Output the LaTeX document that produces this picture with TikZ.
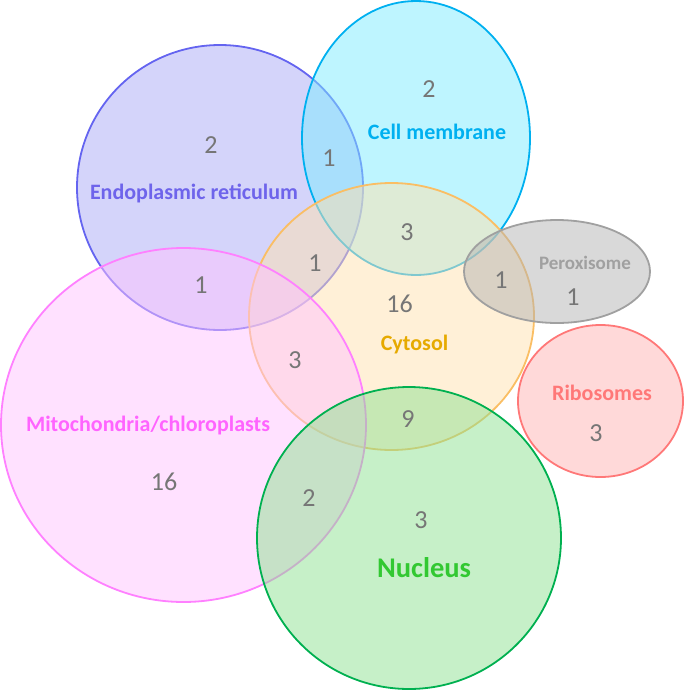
\documentclass[tikz,border=0pt]{standalone}
\usepackage{fontspec}
\setmainfont{Carlito}
\definecolor{erline}{RGB}{100,100,240}
\definecolor{erfill}{RGB}{169,169,245}
\definecolor{ertext}{RGB}{110,100,235}
\definecolor{cmline}{RGB}{0,176,240}
\definecolor{cmfill}{RGB}{125,235,255}
\definecolor{cytline}{RGB}{250,190,100}
\definecolor{cytfill}{RGB}{255,225,175}
\definecolor{cyttext}{RGB}{230,170,0}
\definecolor{perline}{RGB}{160,160,160}
\definecolor{perfill}{RGB}{179,179,179}
\definecolor{ribline}{RGB}{255,120,120}
\definecolor{ribfill}{RGB}{255,179,179}
\definecolor{mitline}{RGB}{255,128,255}
\definecolor{mitfill}{RGB}{255,195,255}
\definecolor{mittext}{RGB}{255,100,255}
\definecolor{nucline}{RGB}{0,176,80}
\definecolor{nucfill}{RGB}{141,225,145}
\definecolor{nuctext}{RGB}{50,200,50}
\definecolor{numgray}{RGB}{118,118,118}

\begin{document}
\begin{tikzpicture}[
    x=1pt, y=-1pt,
    compartment/.style 2 args={draw=#1, line width=1.8pt, fill=#2, fill opacity=0.5},
    lbl/.style={font=\fontsize{22}{22}\selectfont\bfseries, text=#1, inner sep=0pt},
    num/.style={font=\fontsize{26}{26}\selectfont, text=numgray, inner sep=0pt}
]
\useasboundingbox (0,0) rectangle (685,691);

% compartments
\draw[compartment={erline}{erfill}] (220,187.5) ellipse [x radius=143, y radius=142.5];
\draw[compartment={cmline}{cmfill}] (416,138) ellipse [x radius=114, y radius=137];
\draw[compartment={cytline}{cytfill}] (391.5,316.5) ellipse [x radius=142.5, y radius=133.5];
\draw[compartment={perline}{perfill}] (557,271.5) ellipse [x radius=93, y radius=51.5];
\draw[compartment={ribline}{ribfill}] (600.5,401) ellipse [x radius=82.5, y radius=76];
\draw[compartment={mitline}{mitfill}] (183.5,425) ellipse [x radius=182.5, y radius=177];
\draw[compartment={nucline}{nucfill}] (409,538) ellipse [x radius=152, y radius=151];

% names
\node[lbl=ertext] (erName) at (194,193) {Endoplasmic reticulum};
\node[lbl=cmline] (cmName) at (437,132) {Cell membrane};
\node[lbl=cyttext] (cytName) at (414.5,345) {Cytosol};
\node[lbl=perline, font=\fontsize{19}{19}\selectfont\bfseries] (perName) at (585,263) {Peroxisome};
\node[lbl=ribline] (ribName) at (602,393) {Ribosomes};
\node[lbl=mittext] (mitName) at (148,426) {Mitochondria/chloroplasts};
\node[lbl=nuctext, font=\fontsize{28.5}{28.5}\selectfont\bfseries] (nucName) at (424,568) {Nucleus};

% counts
\node[num] (erOnly) at (211,145) {2};
\node[num] (erCm) at (329,158) {1};
\node[num] (cmOnly) at (429,89) {2};
\node[num] (cmCyt) at (407,232) {3};
\node[num] (erCmCyt) at (315,263) {1};
\node[num] (erMit) at (201,285) {1};
\node[num] (cytOnly) at (399.5,304) {16};
\node[num] (cytPer) at (501,280) {1};
\node[num] (perOnly) at (573,297) {1};
\node[num] (mitCyt) at (295,360) {3};
\node[num] (cytNuc) at (408,419) {9};
\node[num] (mitOnly) at (164,482) {16};
\node[num] (mitNuc) at (309,498) {2};
\node[num] (nucOnly) at (421,520) {3};
\node[num] (ribOnly) at (596,433) {3};
\end{tikzpicture}
\end{document}
